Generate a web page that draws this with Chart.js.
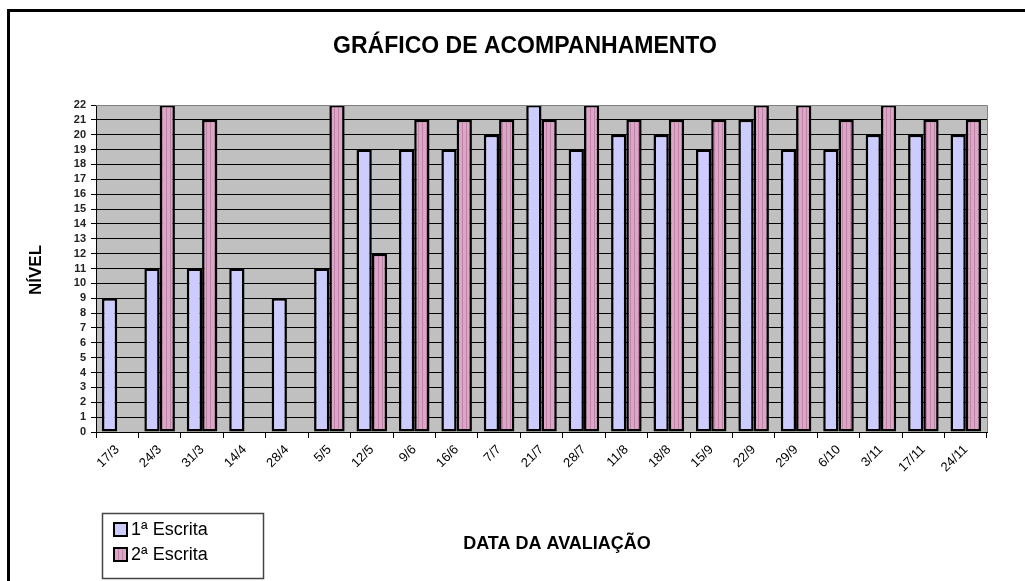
<!DOCTYPE html>
<html>
<head>
<meta charset="utf-8">
<script src="https://cdn.jsdelivr.net/npm/chart.js@4/dist/chart.umd.min.js"></script>
<style>
  html, body { margin: 0; padding: 0; background: #fff; }
  #wrap { width: 1025px; height: 581px; }
</style>
</head>
<body>
<div id="wrap"><canvas id="myChart" width="1025" height="581"></canvas></div>
<script>
// DADOS DO GRAFICO
const datas = ["17/3", "24/3", "31/3", "14/4", "28/4", "5/5", "12/5", "9/6", "16/6", "7/7", "21/7",
  "28/7", "11/8", "18/8", "15/9", "22/9", "29/9", "6/10", "3/11", "17/11", "24/11"];
const primeiraEscrita = [9, 11, 11, 11, 9, 11, 19, 19, 19, 20, 22, 19, 20, 20, 19, 21, 19, 19, 20, 20, 20];
const segundaEscrita = [null, 22, 21, null, null, 22, 12, 21, 21, 21, 21, 22, 21, 21, 21, 22, 22, 21, 22, 21, 21];
const nivelMin = 0;
const nivelMax = 22;
const nivelPasso = 1;

const FONTE = "'Liberation Sans', Arial, sans-serif";

const canvas = document.getElementById("myChart");
const ctx = canvas.getContext("2d");

// listras verticais da 2a escrita
function listras() {
  const c = document.createElement("canvas");
  c.width = 4; c.height = 4;
  const g = c.getContext("2d");
  g.fillStyle = "#dca6c6";
  g.fillRect(0, 0, 4, 4);
  g.fillStyle = "#c083a8";
  g.fillRect(2, 0, 1, 4);
  return ctx.createPattern(c, "repeat");
}
const rosa = listras();
const azul = "#ccccff";

// fundo, moldura, titulos e legenda
const moldura = {
  id: "moldura",
  beforeDraw(chart) {
    const c = chart.ctx;
    const a = chart.chartArea;
    c.save();
    c.fillStyle = "#fff";
    c.fillRect(0, 0, chart.width, chart.height);
    c.fillStyle = "#c0c0c0";
    c.fillRect(a.left, a.top, a.right - a.left, a.bottom - a.top);
    c.restore();
  },
  afterDraw(chart) {
    const c = chart.ctx;
    const a = chart.chartArea;
    c.save();
    // moldura externa
    c.strokeStyle = "#000";
    c.lineWidth = 3;
    c.beginPath();
    c.moveTo(8.5, chart.height);
    c.lineTo(8.5, 10.5);
    c.lineTo(chart.width, 10.5);
    c.stroke();
    // borda da area do grafico
    c.strokeStyle = "#808080";
    c.lineWidth = 1;
    c.beginPath();
    c.moveTo(a.left, a.top + 0.5);
    c.lineTo(a.right + 0.5, a.top + 0.5);
    c.lineTo(a.right + 0.5, a.bottom);
    c.stroke();

    // titulo
    c.fillStyle = "#000";
    c.textAlign = "center";
    c.textBaseline = "middle";
    c.font = "bold 23px " + FONTE;
    c.fillText("GRÁFICO DE ACOMPANHAMENTO", 525, 47);
    // titulos dos eixos
    c.font = "bold 18px " + FONTE;
    c.fillText("DATA DA AVALIAÇÃO", 557, 544);
    c.font = "bold 17px " + FONTE;
    c.save();
    c.translate(36, 270);
    c.rotate(-Math.PI / 2);
    c.fillText("NÍVEL", 0, 0);
    c.restore();

    // legenda
    c.strokeStyle = "#444";
    c.lineWidth = 1.5;
    c.strokeRect(102.5, 513.5, 161, 65);
    c.textAlign = "left";
    c.font = "18px " + FONTE;
    chart.data.datasets.forEach((ds, i) => {
      const y = 530 + i * 25;
      c.fillStyle = ds.backgroundColor;
      c.fillRect(114, y - 7, 13, 13);
      c.strokeStyle = "#000";
      c.lineWidth = 2;
      c.strokeRect(114, y - 7, 13, 13);
      c.fillStyle = "#000";
      c.fillText(ds.label, 131, y);
    });
    c.restore();
  }
};

new Chart(canvas, {
  type: "bar",
  data: {
    labels: datas,
    datasets: [
      {
        label: "1ª Escrita",
        data: primeiraEscrita,
        backgroundColor: azul,
        borderColor: "#000",
        borderWidth: 2.5,
        borderSkipped: false,
        categoryPercentage: 0.72,
        barPercentage: 1
      },
      {
        label: "2ª Escrita",
        data: segundaEscrita,
        backgroundColor: rosa,
        borderColor: "#000",
        borderWidth: 2.5,
        borderSkipped: false,
        categoryPercentage: 0.72,
        barPercentage: 1
      }
    ]
  },
  options: {
    responsive: false,
    animation: false,
    layout: { padding: { top: 105, right: 38, left: 0, bottom: 0 } },
    plugins: {
      legend: { display: false },
      tooltip: { enabled: false }
    },
    scales: {
      x: {
        offset: true,
        grid: { display: true, drawOnChartArea: false, drawTicks: true, tickLength: 6, color: "#000", offset: true },
        border: { color: "#000", width: 1 },
        ticks: {
          autoSkip: false, maxRotation: 45, minRotation: 45, padding: 4,
          color: "#000", font: { family: FONTE, size: 13 }
        },
        afterFit: s => { s.height = 149; }
      },
      y: {
        min: nivelMin,
        max: nivelMax,
        ticks: {
          stepSize: nivelPasso, autoSkip: false, padding: 5,
          color: "#222", font: { family: FONTE, size: 11, weight: "bold" }
        },
        grid: { color: "#000", lineWidth: 1, tickLength: 5 },
        border: { color: "#000", width: 1 },
        afterFit: s => { s.width = 96; }
      }
    }
  },
  plugins: [moldura]
});
</script>
</body>
</html>
